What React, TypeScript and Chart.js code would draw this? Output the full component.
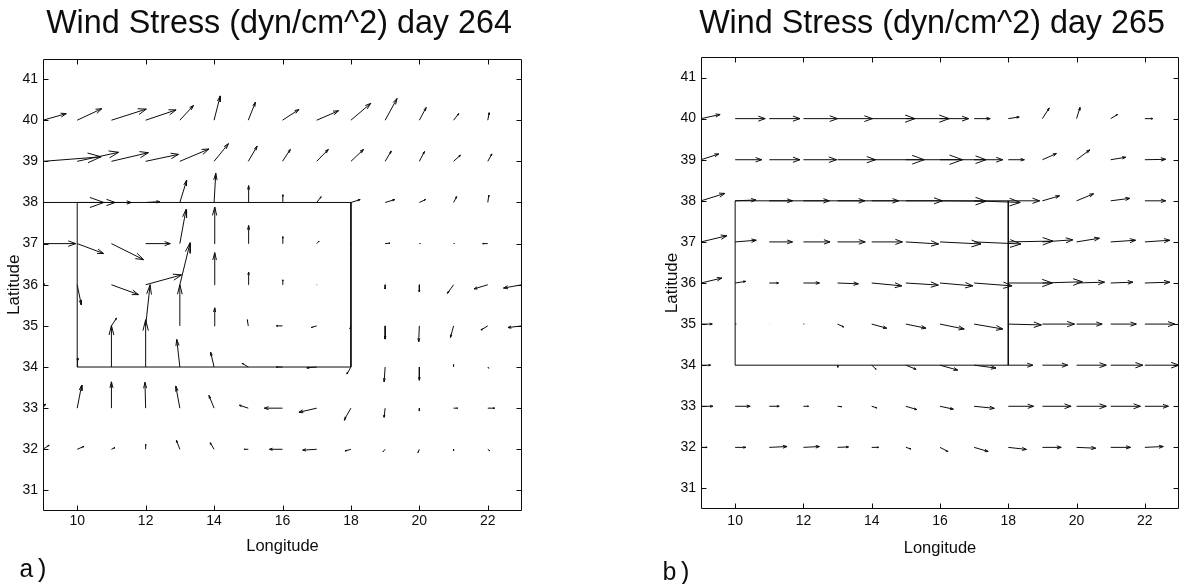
import React, { useEffect, useRef } from 'react';
import { Chart, registerables } from 'chart.js';

Chart.register(...registerables);

// Grid of the wind-stress field
const LON = [9, 10, 11, 12, 13, 14, 15, 16, 17, 18, 19, 20, 21, 22, 23];
const LAT = [40, 39, 38, 37, 36, 35, 34, 33, 32];

const LON_TICKS = [10, 12, 14, 16, 18, 20, 22];
const LAT_TICKS = [31, 32, 33, 34, 35, 36, 37, 38, 39, 40, 41];

// Study region outline
const BOX_LON = [10, 18, 18, 10, 10];
const BOX_LAT = [38, 38, 34, 34, 38];

// Day 264: eastward (U) and northward (V) stress, one row per latitude (40 -> 32), columns lon 9..23
const U_264 = [
  [0.68, 0.72, 1.02, 0.89, 0.40, 0.18, 0.21, 0.48, 0.64, 0.58, 0.35, 0.20, 0.15, 0.04, 0.06],
  [1.70, 1.21, 1.08, 0.96, 0.85, 0.42, 0.26, 0.23, 0.34, 0.37, 0.18, 0.15, 0.20, 0.12, 0.03],
  [1.78, 1.11, 0.58, 0.41, 0.20, 0.05, 0.01, 0.01, 0.13, 0.27, 0.28, 0.18, 0.09, 0.03, 0.01],
  [0.96, 0.77, 0.94, 0.72, 0.18, 0.02, 0.01, 0.01, 0.07, 0.01, 0.14, 0.03, 0.03, -0.15, 0.00],
  [0.06, 0.12, 0.79, 1.05, 0.30, 0.02, 0.01, 0.01, 0.01, 0.00, 0.00, 0.00, -0.18, -0.40, -0.54],
  [0.00, 0.00, 0.15, 0.13, 0.00, 0.02, -0.03, -0.18, -0.16, -0.03, 0.00, -0.02, -0.09, -0.20, -0.41],
  [0.00, 0.01, 0.00, 0.00, -0.09, -0.10, -0.18, -0.18, -0.29, -0.12, -0.03, 0.00, 0.00, 0.03, 0.00],
  [0.07, 0.13, 0.00, -0.02, -0.12, -0.15, -0.26, -0.53, -0.52, -0.20, -0.03, 0.00, 0.12, 0.20, 0.00],
  [0.18, 0.20, 0.10, 0.00, -0.10, -0.11, -0.12, -0.38, -0.41, -0.17, -0.06, -0.04, 0.00, 0.06, 0.00],
];
const V_264 = [
  [0.16, 0.28, 0.27, 0.25, 0.36, 0.59, 0.44, 0.26, 0.23, 0.41, 0.53, 0.31, 0.16, 0.18, -0.02],
  [0.11, 0.22, 0.21, 0.17, 0.30, 0.43, 0.37, 0.29, 0.29, 0.29, 0.25, 0.24, 0.15, 0.18, 0.02],
  [0.00, 0.00, 0.00, 0.02, 0.54, 0.71, 0.41, 0.19, 0.14, 0.07, 0.07, 0.07, 0.14, 0.18, 0.00],
  [0.00, -0.24, -0.39, 0.00, 0.83, 0.89, 0.44, 0.17, 0.06, 0.00, 0.01, 0.00, 0.00, 0.00, 0.00],
  [0.02, -0.49, -0.24, 0.24, 1.02, 0.78, 0.31, 0.12, 0.00, 0.00, -0.10, -0.17, -0.21, -0.10, -0.08],
  [0.00, 0.00, 0.19, 1.00, 1.00, 0.44, 0.15, 0.00, -0.04, -0.07, -0.32, -0.39, -0.28, -0.10, -0.04],
  [0.00, 0.22, 1.01, 1.15, 0.67, 0.36, 0.09, 0.00, -0.02, -0.17, -0.36, -0.32, 0.06, -0.03, 0.00],
  [0.10, 0.56, 0.64, 0.63, 0.54, 0.31, 0.07, 0.00, -0.10, -0.29, -0.22, -0.07, 0.00, 0.00, 0.00],
  [0.10, 0.07, 0.04, 0.12, 0.22, 0.16, 0.00, 0.00, -0.02, -0.04, -0.06, -0.08, -0.04, -0.04, 0.00],
];

// Day 265
const U_265 = [
  [0.56, 0.88, 0.90, 1.00, 1.02, 1.27, 1.27, 0.84, 0.47, 0.32, 0.20, 0.10, 0.20, 0.23, 0.20],
  [0.52, 0.78, 0.90, 0.97, 1.11, 1.54, 1.66, 1.35, 0.84, 0.47, 0.41, 0.39, 0.44, 0.61, 0.55],
  [0.70, 0.61, 0.68, 0.76, 0.80, 0.79, 1.07, 1.35, 1.35, 0.92, 0.50, 0.50, 0.56, 0.61, 0.60],
  [0.76, 0.62, 0.68, 0.78, 0.81, 0.90, 0.96, 1.20, 1.37, 1.31, 0.89, 0.67, 0.73, 0.73, 0.70],
  [0.61, 0.31, 0.27, 0.47, 0.61, 0.88, 0.95, 0.96, 1.11, 1.29, 1.17, 0.82, 0.65, 0.73, 0.70],
  [0.33, 0.03, 0.01, 0.02, 0.18, 0.44, 0.59, 0.71, 0.84, 0.97, 0.94, 0.75, 0.75, 0.88, 0.90],
  [0.28, 0.01, 0.00, 0.00, 0.01, 0.13, 0.30, 0.52, 0.64, 0.72, 0.74, 0.87, 0.94, 1.00, 1.00],
  [0.35, 0.44, 0.29, 0.15, 0.12, 0.15, 0.32, 0.39, 0.59, 0.74, 0.84, 0.87, 0.87, 0.69, 0.50],
  [0.18, 0.31, 0.52, 0.47, 0.32, 0.20, 0.15, 0.23, 0.41, 0.53, 0.55, 0.56, 0.58, 0.54, 0.50],
];
const V_265 = [
  [0.10, 0.00, 0.00, 0.00, 0.00, 0.00, 0.00, 0.00, 0.00, 0.04, 0.26, 0.27, 0.10, 0.00, 0.00],
  [0.14, 0.00, 0.00, 0.00, 0.00, 0.00, 0.00, 0.00, 0.00, 0.00, 0.15, 0.24, 0.06, 0.01, 0.00],
  [0.18, 0.02, 0.00, 0.00, 0.00, 0.00, 0.00, -0.01, -0.04, 0.00, 0.12, 0.17, 0.06, 0.00, 0.00],
  [0.15, 0.04, 0.00, 0.00, 0.00, 0.00, -0.05, -0.05, -0.05, 0.02, 0.05, 0.09, 0.04, 0.04, 0.00],
  [0.12, 0.04, 0.00, 0.00, -0.02, -0.07, -0.05, -0.07, -0.07, 0.00, 0.03, 0.02, 0.02, 0.02, 0.00],
  [0.00, 0.00, 0.00, 0.00, -0.07, -0.10, -0.10, -0.12, -0.12, -0.02, 0.00, 0.00, 0.00, 0.00, 0.00],
  [0.00, 0.00, 0.00, 0.00, -0.05, -0.10, -0.10, -0.12, -0.07, 0.00, 0.00, 0.00, 0.00, 0.00, 0.00],
  [0.00, 0.00, 0.00, 0.00, -0.01, -0.04, -0.08, -0.07, -0.05, 0.00, 0.00, 0.00, 0.00, 0.00, 0.00],
  [0.00, 0.00, 0.02, 0.02, 0.01, 0.00, -0.04, -0.10, -0.10, -0.05, 0.00, -0.02, 0.00, 0.02, 0.00],
];

// Quiver drawing: arrow length in degrees per dyn/cm^2, head proportions as in MATLAB quiver
const QUIVER_SCALE = 1;
const HEAD_ALPHA = 0.23;
const HEAD_BETA = 0.3;

const INK = '#0d0d0d';
const SANS = "'Liberation Sans', Arial, Helvetica, sans-serif";
const MONO = "'Liberation Mono', 'Courier New', monospace";

type Pt = { x: number; y: number | null };

function quiverPoints(u: number[][], v: number[][]): Pt[] {
  const pts: Pt[] = [];
  LAT.forEach((lat, i) => {
    LON.forEach((lon, j) => {
      const du = u[i][j] * QUIVER_SCALE;
      const dv = v[i][j] * QUIVER_SCALE;
      if (du === 0 && dv === 0) return;
      const tx = lon + du;
      const ty = lat + dv;
      pts.push({ x: lon, y: lat }, { x: tx, y: ty }, { x: tx, y: null });
      pts.push(
        { x: tx - HEAD_ALPHA * (du + HEAD_BETA * dv), y: ty - HEAD_ALPHA * (dv - HEAD_BETA * du) },
        { x: tx, y: ty },
        { x: tx - HEAD_ALPHA * (du - HEAD_BETA * dv), y: ty - HEAD_ALPHA * (dv + HEAD_BETA * du) },
        { x: tx, y: null }
      );
    });
  });
  return pts;
}

type PanelProps = {
  title: string;
  tag: string;
  u: number[][];
  v: number[][];
  left: number;
  width: number;
  padTop: number;
  padRight: number;
  yAxisWidth: number;
  xAxisHeight: number;
  xTickPad: number;
  latTitlePad: number;
  lonTitlePad: number;
  titleX: number;
  tagX: number;
  tagY: number;
};

function QuiverPanel(p: PanelProps) {
  const ref = useRef<HTMLCanvasElement | null>(null);

  useEffect(() => {
    if (!ref.current) return;

    // Box frame with inward ticks on all four sides, panel heading and panel tag
    const frame = {
      id: 'frame',
      afterDraw(chart: any) {
        const { ctx, chartArea: a, scales } = chart;
        const xs = scales.x;
        const ys = scales.y;
        const L = Math.round(a.left) + 0.5;
        const R = Math.round(a.right) - 0.5;
        const T = Math.round(a.top) + 0.5;
        const B = Math.round(a.bottom) - 0.5;
        const tick = 5;
        ctx.save();
        ctx.strokeStyle = INK;
        ctx.lineWidth = 1;
        ctx.beginPath();
        ctx.rect(L, T, R - L, B - T);
        xs.ticks.forEach((t: any) => {
          const px = Math.round(xs.getPixelForValue(t.value)) + 0.5;
          ctx.moveTo(px, B);
          ctx.lineTo(px, B - tick);
          ctx.moveTo(px, T);
          ctx.lineTo(px, T + tick);
        });
        ys.ticks.forEach((t: any) => {
          const py = Math.round(ys.getPixelForValue(t.value)) + 0.5;
          ctx.moveTo(L, py);
          ctx.lineTo(L + tick, py);
          ctx.moveTo(R, py);
          ctx.lineTo(R - tick, py);
        });
        ctx.stroke();

        ctx.fillStyle = INK;
        ctx.textBaseline = 'middle';
        ctx.textAlign = 'center';
        ctx.save();
        ctx.translate(p.titleX, 24);
        ctx.scale(0.95, 1);
        ctx.font = `34px ${SANS}`;
        ctx.fillText(p.title, 0, 0);
        ctx.restore();

        ctx.font = `25px ${MONO}`;
        ctx.textAlign = 'left';
        ctx.fillText(p.tag, p.tagX, p.tagY);
        ctx.restore();
      },
    };

    const chart = new Chart(ref.current, {
      type: 'scatter',
      data: {
        datasets: [
          {
            data: quiverPoints(p.u, p.v) as any,
            showLine: true,
            spanGaps: false,
            borderColor: INK,
            borderWidth: 1,
            pointRadius: 0,
            tension: 0,
          },
          {
            data: BOX_LON.map((x, i) => ({ x, y: BOX_LAT[i] })),
            showLine: true,
            borderColor: INK,
            borderWidth: 1,
            pointRadius: 0,
            tension: 0,
          },
        ],
      },
      options: {
        responsive: false,
        animation: false,
        devicePixelRatio: 1,
        events: [],
        layout: { padding: { top: p.padTop, right: p.padRight, bottom: 0, left: 0 } },
        plugins: {
          legend: { display: false },
          tooltip: { enabled: false },
          title: { display: false },
        },
        scales: {
          x: {
            type: 'linear',
            min: 9,
            max: 23,
            grid: { display: false, drawTicks: false },
            border: { display: false },
            afterBuildTicks: (s: any) => {
              s.ticks = LON_TICKS.map((value) => ({ value }));
            },
            afterFit: (s: any) => {
              s.height = p.xAxisHeight;
            },
            ticks: {
              color: INK,
              font: { family: SANS, size: 14 },
              padding: p.xTickPad,
              maxRotation: 0,
              autoSkip: false,
            },
            title: {
              display: true,
              text: 'Longitude',
              color: INK,
              font: { family: SANS, size: 16.5 },
              padding: { top: 0, bottom: p.lonTitlePad },
            },
          },
          y: {
            type: 'linear',
            min: 30.5,
            max: 41.5,
            grid: { display: false, drawTicks: false },
            border: { display: false },
            afterBuildTicks: (s: any) => {
              s.ticks = LAT_TICKS.map((value) => ({ value }));
            },
            afterFit: (s: any) => {
              s.width = p.yAxisWidth;
            },
            ticks: {
              color: INK,
              font: { family: SANS, size: 14 },
              padding: 5,
              autoSkip: false,
            },
            title: {
              display: true,
              text: 'Latitude',
              color: INK,
              font: { family: SANS, size: 17 },
              padding: { top: p.latTitlePad, bottom: 0 },
            },
          },
        },
      },
      plugins: [frame],
    } as any);

    return () => chart.destroy();
  }, [p]);

  return (
    <canvas
      ref={ref}
      width={p.width}
      height={584}
      style={{ position: 'absolute', left: p.left, top: 0, width: p.width, height: 584 }}
    />
  );
}

const PANEL_A: PanelProps = {
  title: 'Wind Stress (dyn/cm^2) day 264',
  tag: 'a)',
  u: U_264,
  v: V_264,
  left: 0,
  width: 560,
  padTop: 58.5,
  padRight: 38,
  yAxisWidth: 43,
  xAxisHeight: 73,
  xTickPad: 2,
  latTitlePad: 4,
  lonTitlePad: 27.4,
  titleX: 279,
  tagX: 19,
  tagY: 570,
};

const PANEL_B: PanelProps = {
  title: 'Wind Stress (dyn/cm^2) day 265',
  tag: 'b)',
  u: U_265,
  v: V_265,
  left: 650,
  width: 536,
  padTop: 57,
  padRight: 7,
  yAxisWidth: 51,
  xAxisHeight: 75,
  xTickPad: 4,
  latTitlePad: 12,
  lonTitlePad: 25.4,
  titleX: 282,
  tagX: 12,
  tagY: 573,
};

export default function App() {
  return (
    <div
      style={{
        position: 'absolute',
        left: 0,
        top: 0,
        width: 1186,
        height: 584,
        background: '#ffffff',
        overflow: 'hidden',
      }}
    >
      <QuiverPanel {...PANEL_A} />
      <QuiverPanel {...PANEL_B} />
    </div>
  );
}
